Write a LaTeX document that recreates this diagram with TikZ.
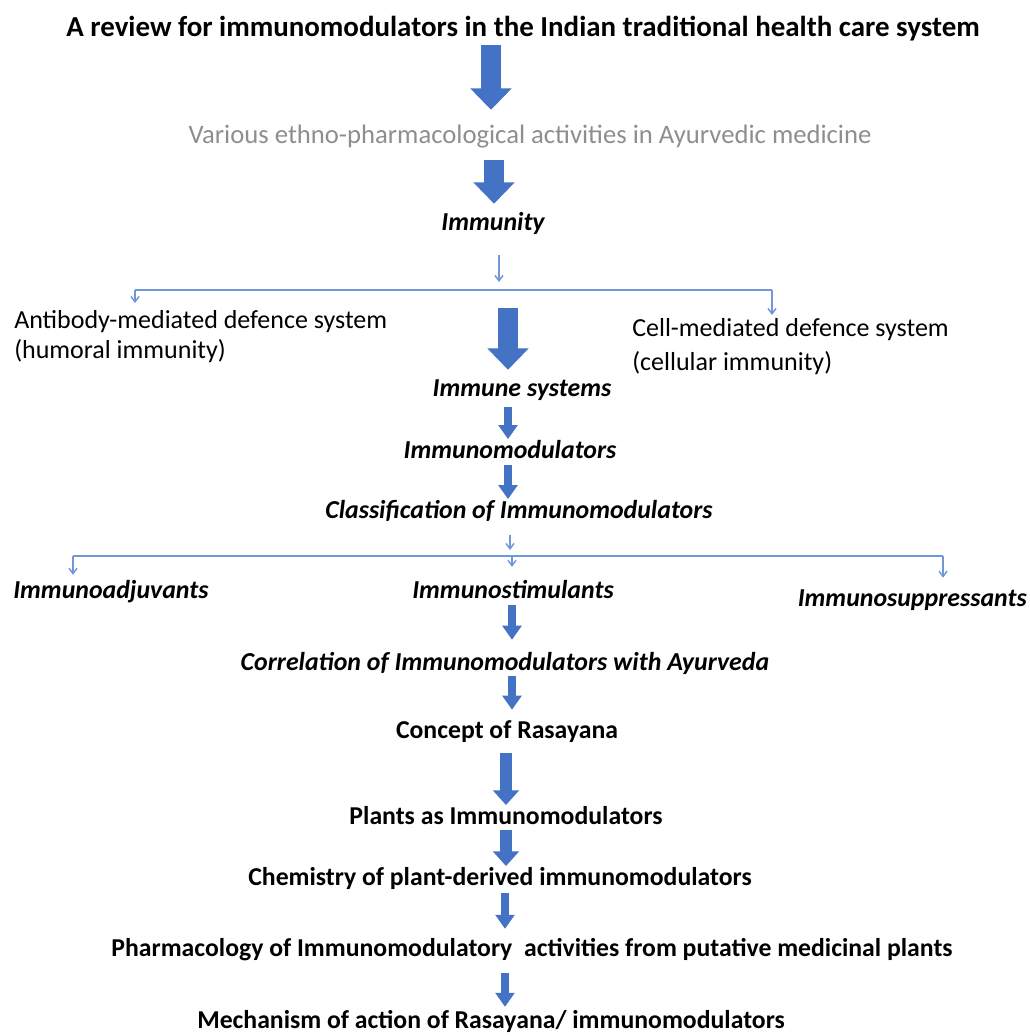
\documentclass[tikz,border=0pt]{standalone}
\usepackage{fontspec}
\setmainfont{Carlito}
\usepackage{xcolor}
\definecolor{cArrow}{HTML}{4472C4}
\definecolor{cLine} {HTML}{7097D8}
\definecolor{cGrey} {HTML}{8E8E8E}
\usetikzlibrary{arrows.meta, positioning}
\tikzset{
  txt/.style   = {inner sep=0pt, text height=14pt, text depth=4pt, anchor=base},
  ttl/.style   = {txt, font=\fontsize{21.7}{26}\selectfont\bfseries},
  sub/.style   = {txt, font=\fontsize{19.3}{23}\selectfont\bfseries},
  lvl/.style   = {txt, font=\fontsize{19.4}{23}\selectfont\bfseries\itshape},
  plain/.style = {font=\fontsize{19.5}{22.5}\selectfont, align=left, inner sep=0pt},
  grey/.style  = {txt, font=\fontsize{20}{24}\selectfont, text=cGrey},
  bigarr/.style   = {draw=cArrow, line width=15pt,
                     -{Triangle[width=30pt, length=16pt]}},
  midarr/.style   = {draw=cArrow, line width=9pt,
                     -{Triangle[width=19pt, length=11pt]}},
  smallarr/.style = {draw=cArrow, line width=6.5pt,
                     -{Triangle[width=14pt, length=10.5pt]}},
  thinarr/.style  = {draw=cLine, line width=1.1pt,
                     -{Straight Barb[length=4pt, width=6pt]}},
  bus/.style      = {draw=cLine, line width=1.1pt},
}

\begin{document}
\begin{tikzpicture}[x=0.75pt, y=-0.75pt]
  \useasboundingbox (0,0) rectangle (1029,1036);

  \node[ttl]   (title)  at (523,36)  {A review for immunomodulators in the Indian traditional health care system};
  \node[grey]  (ethno)  at (530,143) {Various ethno-pharmacological activities in Ayurvedic medicine};
  \node[lvl]   (immun)  at (493,230) {Immunity};

  \node[plain, anchor=west] (humoral)  at (14,337)  {Antibody-mediated defence system\\(humoral immunity)};
  \node[plain, anchor=west] (cellular) at (632,347) {Cell-mediated defence system\\[3pt](cellular immunity)};

  \node[lvl]   (isys)   at (522,396) {Immune systems};
  \node[lvl]   (imod)   at (510,458) {Immunomodulators};
  \node[lvl]   (class)  at (519,518) {Classification of Immunomodulators};

  \node[lvl, anchor=base west] (adjuv) at (13,598)   {Immunoadjuvants};
  \node[lvl]                   (stim)  at (513,598)  {Immunostimulants};
  \node[lvl, anchor=base east] (supp)  at (1027,606) {Immunosuppressants};

  \node[lvl]   (corr)   at (505,670)  {Correlation of Immunomodulators with Ayurveda};
  \node[sub]   (rasa)   at (507,738)  {Concept of Rasayana};
  \node[sub]   (plants) at (506,824)  {Plants as Immunomodulators};
  \node[sub]   (chem)   at (500,885)  {Chemistry of plant-derived immunomodulators};
  \node[sub]   (pharm)  at (532,956)  {Pharmacology of Immunomodulatory\ \ activities from putative medicinal plants};
  \node[sub]   (mech)   at (491,1028) {Mechanism of action of Rasayana/ immunomodulators};

  % branch points
  \coordinate (b1l) at (135,290);
  \coordinate (b1r) at (772,290);
  \coordinate (b2l) at (73,556);
  \coordinate (b2r) at (943,556);

  % main spine
  \draw[bigarr, shorten <=2.8pt, shorten >=10.7pt] (title.south -| 491,0) -- (ethno.north -| 491,0);
  \draw[bigarr, shorten <=8.8pt, shorten >=5.5pt] (ethno.south -| 494,0) -- (immun.north -| 494,0);
  \draw[bigarr, shorten <=13.5pt, shorten >=5.5pt] (b1l -| 508,0) -- (isys.north -| 508,0);
  \draw[smallarr, shorten <=4.3pt] (isys.south -| 508,0) -- (imod.north -| 508,0);
  \draw[smallarr, shorten <=1.3pt] (imod.south -| 508,0) -- (class.north -| 508,0);
  \draw[smallarr, shorten <=1.3pt, shorten >=8.5pt] (stim.south -| 512,0) -- (corr.north -| 512,0);
  \draw[smallarr, shorten >=7pt] (corr.south -| 512,0) -- (rasa.north -| 512,0);
  \draw[midarr, shorten <=7.3pt] (rasa.south -| 506,0) -- (plants.north -| 506,0);
  \draw[midarr, shorten <=0.5pt] (plants.south -| 506,0) -- (chem.north -| 506,0);
  \draw[smallarr, shorten <=2pt, shorten >=6.2pt] (chem.south -| 505,0) -- (pharm.north -| 505,0);
  \draw[smallarr, shorten <=8.8pt, shorten >=1.7pt] (pharm.south -| 505,0) -- (mech.north -| 505,0);

  % first split
  \draw[thinarr, shorten <=14.8pt, shorten >=6pt] (immun.south -| 499,0) -- (b1l -| 499,0);
  \draw[bus] (b1l) -- (b1r);
  \draw[thinarr] (b1l) -- ++(0,13);
  \draw[thinarr] (b1r) -- ++(0,25);

  % second split
  \draw[thinarr, shorten <=8.8pt, shorten >=4.5pt] (class.south -| 510,0) -- (b2l -| 510,0);
  \draw[bus] (b2l) -- (b2r);
  \draw[thinarr, shorten >=3.2pt] (b2l) -- (adjuv.north -| b2l);
  \draw[thinarr, shorten >=9.2pt] (b2l -| 512,0) -- (stim.north -| 512,0);
  \draw[thinarr, shorten >=7pt] (b2r) -- (supp.north -| b2r);
\end{tikzpicture}
\end{document}
